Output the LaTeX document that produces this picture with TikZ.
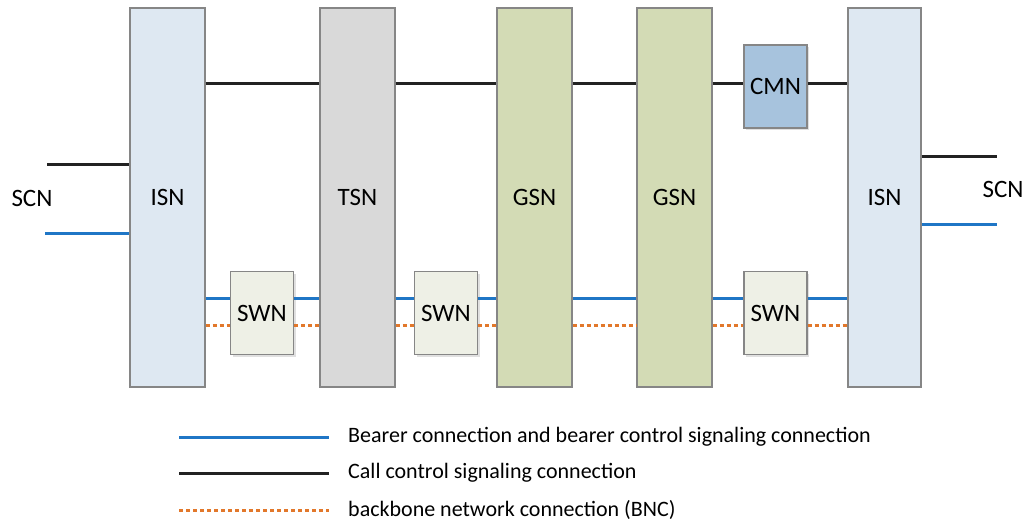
\documentclass[tikz,border=0pt]{standalone}
\usepackage{fontspec}
\setmainfont{Carlito}
\definecolor{isnfill}{HTML}{DEE8F2}
\definecolor{tsnfill}{HTML}{D9D9D9}
\definecolor{gsnfill}{HTML}{D3DBB5}
\definecolor{cmnfill}{HTML}{A7C3DD}
\definecolor{swnfill}{HTML}{EEF0E6}
\definecolor{edgegray}{HTML}{868686}
\definecolor{bearer}{HTML}{1F76C6}
\definecolor{bnc}{HTML}{E2782B}
\definecolor{callc}{HTML}{222222}
\begin{document}
\begin{tikzpicture}[x=1pt,y=-1pt,
  box/.style={draw=edgegray, line width=1.1pt, rectangle, inner sep=0pt,
    font=\fontsize{25}{29}\selectfont},
  tall/.style={box, minimum height=379pt},
  small/.style={box, minimum width=63pt, minimum height=83pt},
  shad/.style={fill=black!12, draw=none, rectangle, inner sep=0pt, minimum width=63pt, minimum height=83pt},
  call/.style={draw=callc, line width=3pt},
  bear/.style={draw=bearer, line width=3pt},
  bncl/.style={draw=bnc, line width=3pt, dash pattern=on 4pt off 3pt},
  lbl/.style={font=\fontsize{25}{29}\selectfont, inner sep=0pt},
  leg/.style={font=\fontsize{22}{26}\selectfont, inner sep=0pt, anchor=west}]
\useasboundingbox (0,0) rectangle (1028,523);

% shadows
\node[shad] at (264,315) {};
\node[shad] at (448,315) {};
\node[shad] at (777.5,315) {};
\node[shad] at (777.5,88.5) {};

% big nodes
\node[tall, fill=isnfill, minimum width=75pt] (isn1) at (167.5,197.5) {ISN};
\node[tall, fill=tsnfill, minimum width=75pt] (tsn) at (357.5,197.5) {TSN};
\node[tall, fill=gsnfill, minimum width=75pt] (gsn1) at (534.5,197.5) {GSN};
\node[tall, fill=gsnfill, minimum width=75pt] (gsn2) at (674.5,197.5) {GSN};
\node[tall, fill=isnfill, minimum width=73pt] (isn2) at (884.5,197.5) {ISN};

% small nodes
\node[small, fill=cmnfill] (cmn) at (775.5,86.5) {CMN};
\node[small, fill=swnfill] (swn1) at (262,313) {SWN};
\node[small, fill=swnfill] (swn2) at (446,313) {SWN};
\node[small, fill=swnfill] (swn3) at (775.5,313) {SWN};

% reference rows
\coordinate (cy) at (0,83);
\coordinate (by) at (0,298.5);
\coordinate (oy) at (0,325);

% call control (black)
\draw[call] (isn1.east |- cy) -- (tsn.west |- cy);
\draw[call] (tsn.east |- cy) -- (gsn1.west |- cy);
\draw[call] (gsn1.east |- cy) -- (gsn2.west |- cy);
\draw[call] (gsn2.east |- cy) -- (cmn.west |- cy);
\draw[call] (cmn.east |- cy) -- (isn2.west |- cy);

% bearer (blue)
\draw[bear] (isn1.east |- by) -- (swn1.west |- by);
\draw[bear] (swn1.east |- by) -- (tsn.west |- by);
\draw[bear] (tsn.east |- by) -- (swn2.west |- by);
\draw[bear] (swn2.east |- by) -- (gsn1.west |- by);
\draw[bear] (gsn1.east |- by) -- (gsn2.west |- by);
\draw[bear] (gsn2.east |- by) -- (swn3.west |- by);
\draw[bear] (swn3.east |- by) -- (isn2.west |- by);

% BNC (orange dotted)
\draw[bncl] (isn1.east |- oy) -- (swn1.west |- oy);
\draw[bncl] (swn1.east |- oy) -- (tsn.west |- oy);
\draw[bncl] (tsn.east |- oy) -- (swn2.west |- oy);
\draw[bncl] (swn2.east |- oy) -- (gsn1.west |- oy);
\draw[bncl] (gsn1.east |- oy) -- (gsn2.west |- oy);
\draw[bncl] (gsn2.east |- oy) -- (swn3.west |- oy);
\draw[bncl] (swn3.east |- oy) -- (isn2.west |- oy);

% SCN left
\coordinate (scnlc) at (47,164);
\coordinate (scnlb) at (45,233);
\draw[call] (scnlc) -- (isn1.west |- scnlc);
\draw[bear] (scnlb) -- (isn1.west |- scnlb);
\node[lbl] (scnl) at (32,198) {SCN};

% SCN right
\coordinate (scnrc) at (997,156);
\coordinate (scnrb) at (997,224);
\draw[call] (isn2.east |- scnrc) -- (scnrc);
\draw[bear] (isn2.east |- scnrb) -- (scnrb);
\node[lbl] (scnr) at (1003,189) {SCN};

% legend
\coordinate (l1a) at (179,437);
\coordinate (l1b) at (329,437);
\coordinate (l2a) at (179,473);
\coordinate (l2b) at (329,473);
\coordinate (l3a) at (179,510);
\coordinate (l3b) at (329,510);
\draw[bear] (l1a) -- (l1b);
\draw[call] (l2a) -- (l2b);
\draw[bncl] (l3a) -- (l3b);
\node[leg] (t1) at (348,437) {Bearer connection and bearer control signaling connection};
\node[leg] (t2) at (348,473) {Call control signaling connection};
\node[leg] (t3) at (348,510) {backbone network connection (BNC)};
\end{tikzpicture}
\end{document}
